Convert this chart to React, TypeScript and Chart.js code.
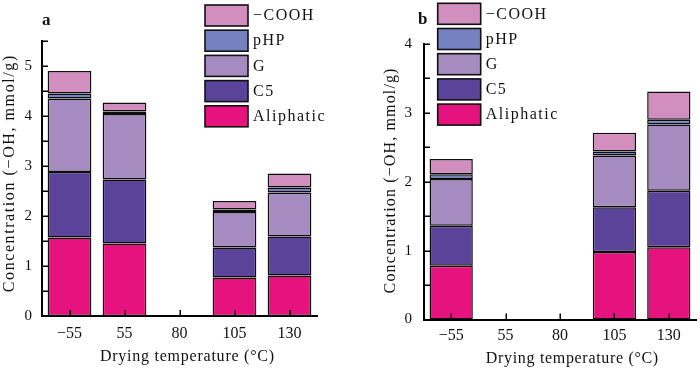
import { useEffect, useRef } from 'react';
import { Chart, registerables } from 'chart.js';

Chart.register(...registerables);

const FONT = '"Liberation Serif", "Times New Roman", serif';

const categories = ['\u221255', '55', '80', '105', '130'];
const seriesLabels = ['Aliphatic', 'C5', 'G', 'pHP', '\u2212COOH'];
const seriesColors = ['#E6127E', '#5B4399', '#A68BC1', '#7681C2', '#D28EBE'];

// Panel a
const aAliphatic = [1.57, 1.45, null, 0.77, 0.81];
const aC5 = [1.31, 1.28, null, 0.6, 0.78];
const aG = [1.47, 1.31, null, 0.71, 0.88];
const aPHP = [0.1, 0.05, null, 0.05, 0.1];
const aCOOH = [0.45, 0.18, null, 0.17, 0.28];

// Panel b
const bAliphatic = [0.78, null, null, 0.98, 1.05];
const bC5 = [0.58, null, null, 0.65, 0.82];
const bG = [0.68, null, null, 0.75, 0.96];
const bPHP = [0.07, null, null, 0.06, 0.07];
const bCOOH = [0.22, null, null, 0.27, 0.41];

const yTitle = 'Concentration (\u2212OH, mmol/g)';
const xTitle = 'Drying temperature (\u00B0C)';

type Cfg = {
  letter: string;
  letterX: number;
  letterY: number;
  yMax: number;
  yAxisW: number;
  top: number;
  xAxisH: number;
  padRight: number;
  yTickPad: number;
  xTickPad: number;
  yTitleX: number;
  yTitleY: number;
  yTitleW: number;
  xTitleX: number;
  xTitleY: number;
  xTitleW: number;
  legendX: number;
  legendTop: number;
  legendStep: number;
  series: (number | null)[][];
};

const cfgA: Cfg = {
  letter: 'a', letterX: 42, letterY: 25,
  yMax: 5.5, yAxisW: 42, top: 41, xAxisH: 53, padRight: 33,
  yTickPad: 10, xTickPad: 8,
  yTitleX: 10, yTitleY: 174, yTitleW: 238,
  xTitleX: 187, xTitleY: 361, xTitleW: 175,
  legendX: 205, legendTop: 5, legendStep: 25.2,
  series: [aAliphatic, aC5, aG, aPHP, aCOOH],
};

const cfgB: Cfg = {
  letter: 'b', letterX: 68, letterY: 24,
  yMax: 4, yAxisW: 74, top: 44, xAxisH: 49.5, padRight: 4,
  yTickPad: 12, xTickPad: 7,
  yTitleX: 40.5, yTitleY: 181, yTitleW: 226,
  xTitleX: 222, xTitleY: 363, xTitleW: 173,
  legendX: 87.7, legendTop: 3.3, legendStep: 25.2,
  series: [bAliphatic, bC5, bG, bPHP, bCOOH],
};

function fitText(ctx: CanvasRenderingContext2D, text: string, x: number, y: number, target: number) {
  (ctx as any).letterSpacing = '0px';
  const w = ctx.measureText(text).width;
  const ls = Math.max(0, (target - w) / text.length);
  (ctx as any).letterSpacing = ls + 'px';
  ctx.fillText(text, x + ls / 2, y);
  (ctx as any).letterSpacing = '0px';
}

function makeDecor(cfg: Cfg) {
  return {
    id: 'decor' + cfg.letter,
    afterDraw(chart: any) {
      const ctx: CanvasRenderingContext2D = chart.ctx;
      const xs = chart.scales.x;
      const ys = chart.scales.y;
      ctx.save();
      // inward ticks
      ctx.strokeStyle = '#000';
      ctx.lineWidth = 1.5;
      ctx.beginPath();
      ys.ticks.forEach((t: any) => {
        const py = Math.round(ys.getPixelForValue(t.value)) + 0.25;
        ctx.moveTo(xs.left, py);
        ctx.lineTo(xs.left + 6, py);
      });
      xs.ticks.forEach((_t: any, i: number) => {
        const px = Math.round(xs.getPixelForTick(i)) + 0.25;
        ctx.moveTo(px, ys.bottom);
        ctx.lineTo(px, ys.bottom - 6);
      });
      ctx.stroke();

      // titles
      ctx.fillStyle = '#111';
      ctx.font = `16px ${FONT}`;
      ctx.textAlign = 'center';
      ctx.textBaseline = 'alphabetic';
      fitText(ctx, xTitle, cfg.xTitleX, cfg.xTitleY, cfg.xTitleW);

      ctx.save();
      ctx.translate(cfg.yTitleX, cfg.yTitleY);
      ctx.rotate(-Math.PI / 2);
      ctx.textBaseline = 'middle';
      fitText(ctx, yTitle, 0, 0, cfg.yTitleW);
      ctx.restore();

      // panel letter
      ctx.font = `bold 17px ${FONT}`;
      ctx.textAlign = 'left';
      ctx.textBaseline = 'alphabetic';
      ctx.fillText(cfg.letter, cfg.letterX, cfg.letterY);

      // legend (reversed order)
      ctx.font = `16px ${FONT}`;
      ctx.textBaseline = 'middle';
      const ds = chart.data.datasets;
      for (let k = 0; k < ds.length; k++) {
        const d = ds[ds.length - 1 - k];
        const top = cfg.legendTop + k * cfg.legendStep;
        ctx.fillStyle = d.backgroundColor;
        ctx.fillRect(cfg.legendX, top, 43, 21);
        ctx.strokeStyle = '#111';
        ctx.lineWidth = 1.6;
        ctx.strokeRect(cfg.legendX, top, 43, 21);
        ctx.fillStyle = '#111';
        (ctx as any).letterSpacing = '1.5px';
        ctx.fillText(d.label, cfg.legendX + 48, top + 11);
        (ctx as any).letterSpacing = '0px';
      }
      ctx.restore();
    },
  };
}

function Panel({ cfg }: { cfg: Cfg }) {
  const ref = useRef<HTMLCanvasElement>(null);
  useEffect(() => {
    if (!ref.current) return;
    const chart = new Chart(ref.current, {
      type: 'bar',
      data: {
        labels: categories,
        datasets: seriesLabels.map((label, i) => ({
          label,
          data: cfg.series[i],
          backgroundColor: seriesColors[i],
          borderColor: '#0d0d0d',
          borderWidth: 1.5,
          borderSkipped: false,
          inflateAmount: 0,
          barPercentage: 0.795,
          categoryPercentage: 1,
        })),
      },
      options: {
        responsive: false,
        animation: false,
        devicePixelRatio: 1,
        layout: { padding: { left: 0, top: cfg.top, right: cfg.padRight, bottom: 0 } },
        plugins: { legend: { display: false }, tooltip: { enabled: false }, title: { display: false } },
        scales: {
          x: {
            type: 'category',
            stacked: true,
            offset: true,
            grid: { display: false, drawTicks: false },
            border: { display: true, color: '#000', width: 2 },
            ticks: {
              color: '#111',
              font: { family: FONT, size: 16 },
              padding: cfg.xTickPad,
              maxRotation: 0,
              autoSkip: false,
            },
            afterFit: (s: any) => {
              s.height = cfg.xAxisH;
            },
          },
          y: {
            stacked: true,
            min: 0,
            max: cfg.yMax,
            grid: { display: false, drawTicks: false },
            border: { display: true, color: '#000', width: 2 },
            ticks: {
              stepSize: 0.5,
              color: '#111',
              font: { family: FONT, size: 15 },
              padding: cfg.yTickPad,
              callback: (v: any) => (Number.isInteger(v) ? String(v) : ''),
            },
            afterFit: (s: any) => {
              s.width = cfg.yAxisW;
            },
          },
        },
      },
      plugins: [makeDecor(cfg)],
    } as any);
    return () => chart.destroy();
  }, [cfg]);
  return <canvas ref={ref} width={350} height={369} style={{ width: 350, height: 369, display: 'block' }} />;
}

export default function App() {
  return (
    <div style={{ position: 'fixed', left: 0, top: 0, width: 700, height: 369, background: '#fff', display: 'flex' }}>
      <Panel cfg={cfgA} />
      <Panel cfg={cfgB} />
    </div>
  );
}
